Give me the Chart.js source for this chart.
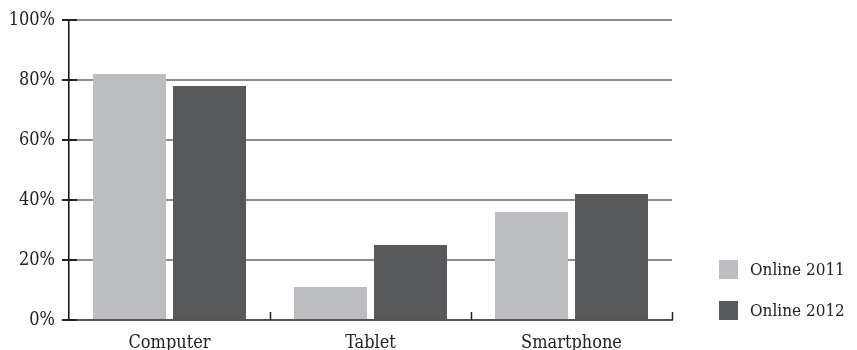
<!DOCTYPE html>
<html>
<head>
<meta charset="utf-8">
<script src="https://cdn.jsdelivr.net/npm/chart.js@4/dist/chart.umd.min.js"></script>
<style>
  html, body { margin: 0; padding: 0; background: #fff; }
  #wrap { width: 857px; height: 350px; }
</style>
</head>
<body>
<div id="wrap"><canvas id="myChart" width="857" height="350"></canvas></div>
<script>
var categories = ['Computer', 'Tablet', 'Smartphone'];
var online2011 = [82, 11, 36];
var online2012 = [78, 25, 42];
var seriesNames = ['Online 2011', 'Online 2012'];
var seriesColors = ['#bcbdc1', '#58595b'];
var yMax = 100, yStep = 20;

var FONT = '"DejaVu Serif Condensed", "DejaVu Serif", serif';

// small dark ticks on both axes plus the legend at the lower right
var axisExtras = {
  id: 'axisExtras',
  afterDraw: function(chart) {
    var ctx = chart.ctx,
        area = chart.chartArea,
        x = chart.scales.x,
        y = chart.scales.y;
    ctx.save();
    ctx.strokeStyle = '#222';
    ctx.lineWidth = 2;
    y.ticks.forEach(function(t) {
      var py = Math.round(y.getPixelForValue(t.value));
      ctx.beginPath();
      ctx.moveTo(area.left - 7, py);
      ctx.lineTo(area.left + 8, py);
      ctx.stroke();
    });
    ctx.lineWidth = 1.5;
    for (var i = 1; i <= categories.length; i++) {
      var px = Math.round(x.getPixelForValue(i - 0.5)) + 0.5;
      ctx.beginPath();
      ctx.moveTo(px, area.bottom);
      ctx.lineTo(px, area.bottom - 8);
      ctx.stroke();
    }

    // legend
    ctx.font = '17px ' + FONT;
    ctx.textBaseline = 'middle';
    ctx.textAlign = 'left';
    chart.data.datasets.forEach(function(ds, k) {
      var top = 260 + k * 41;
      ctx.fillStyle = ds.backgroundColor;
      ctx.fillRect(719, top, 19, 19);
      ctx.fillStyle = '#222';
      ctx.fillText(ds.label, 750, top + 11);
    });
    ctx.restore();
  }
};

var config = {
  type: 'bar',
  data: {
    labels: categories,
    datasets: [
      { label: seriesNames[0], data: online2011, backgroundColor: seriesColors[0] },
      { label: seriesNames[1], data: online2012, backgroundColor: seriesColors[1] }
    ]
  },
  options: {
    responsive: false,
    animation: false,
    categoryPercentage: 0.796,
    barPercentage: 0.9125,
    layout: { padding: { top: 20, right: 185, left: 0, bottom: 0 } },
    plugins: { legend: { display: false }, tooltip: { enabled: false } },
    scales: {
      x: {
        grid: { display: false, drawTicks: false },
        border: { display: true, color: '#555', width: 2 },
        ticks: { color: '#222', padding: 13, font: { family: FONT, size: 18 } },
        afterFit: function(s) { s.height = 30; }
      },
      y: {
        min: 0,
        max: yMax,
        grid: { color: '#8c8c8c', lineWidth: 2, drawTicks: false },
        border: { display: true, color: '#111', width: 1.5 },
        ticks: {
          stepSize: yStep,
          padding: 14,
          color: '#222',
          font: { family: FONT, size: 18 },
          callback: function(v) { return v + '%'; }
        },
        afterFit: function(s) {
          s.width = 69;
          s.paddingTop = 0;
          s.paddingBottom = 0;
        }
      }
    }
  },
  plugins: [axisExtras]
};

var ctx = document.getElementById('myChart').getContext('2d');
var myChart = new Chart(ctx, config);
</script>
</body>
</html>
